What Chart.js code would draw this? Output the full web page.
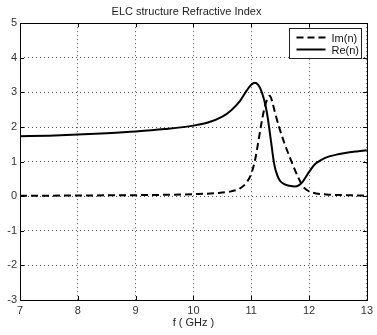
<!DOCTYPE html>
<html>
<head>
<meta charset="utf-8">
<script src="https://cdn.jsdelivr.net/npm/chart.js@4"></script>
<style>
  html, body { margin: 0; padding: 0; background: #fff; }
</style>
</head>
<body>
<canvas id="chartIndex" width="377" height="335"></canvas>
<script>
// Re(n)
const reFreq = [7.0, 7.5, 8.0, 8.5, 9.0, 9.5, 10.0, 10.25, 10.5, 10.65, 10.8, 10.92, 11.0, 11.06, 11.12, 11.17, 11.22, 11.27, 11.31, 11.35, 11.4, 11.45, 11.5, 11.58, 11.66, 11.75, 11.82, 11.89, 11.96, 12.04, 12.12, 12.22, 12.35, 12.5, 12.7, 12.85, 13.0];
const reValues = [1.73, 1.75, 1.78, 1.82, 1.87, 1.94, 2.04, 2.13, 2.30, 2.48, 2.74, 3.05, 3.22, 3.28, 3.22, 3.06, 2.80, 2.42, 1.98, 1.48, 0.90, 0.60, 0.44, 0.34, 0.30, 0.28, 0.31, 0.42, 0.60, 0.80, 0.95, 1.06, 1.15, 1.21, 1.27, 1.30, 1.33];

// Im(n)
const imFreq = [7.0, 8.0, 9.0, 9.5, 10.0, 10.4, 10.65, 10.8, 10.92, 11.0, 11.06, 11.12, 11.17, 11.22, 11.27, 11.32, 11.36, 11.41, 11.49, 11.57, 11.66, 11.74, 11.81, 11.87, 11.93, 12.0, 12.12, 12.3, 12.6, 13.0];
const imValues = [0.01, 0.02, 0.03, 0.04, 0.06, 0.09, 0.14, 0.22, 0.40, 0.65, 1.0, 1.55, 2.05, 2.48, 2.78, 2.90, 2.75, 2.42, 1.95, 1.55, 1.15, 0.82, 0.55, 0.35, 0.22, 0.14, 0.08, 0.05, 0.03, 0.02];

const xTicks = [7, 8, 9, 10, 11, 12, 13];
const yTicks = [-3, -2, -1, 0, 1, 2, 3, 4, 5];

const fontFamily = "'Liberation Sans', Arial, sans-serif";

// box round the plot with little inward ticks, like matlab
const framePlugin = {
  id: "frame",
  afterDatasetsDraw(chart) {
    const ctx = chart.ctx;
    const a = chart.chartArea;
    const xs = chart.scales.x;
    const ys = chart.scales.y;
    ctx.save();
    ctx.strokeStyle = "#000";
    ctx.lineWidth = 1;
    ctx.setLineDash([]);
    ctx.strokeRect(Math.round(a.left) + 0.5, Math.round(a.top) + 0.5, Math.round(a.right - a.left), Math.round(a.bottom - a.top));
    ctx.beginPath();
    xTicks.forEach((t) => {
      const px = Math.round(xs.getPixelForValue(t)) + 0.5;
      ctx.moveTo(px, a.bottom); ctx.lineTo(px, a.bottom - 4);
      ctx.moveTo(px, a.top); ctx.lineTo(px, a.top + 4);
    });
    yTicks.forEach((t) => {
      const py = Math.round(ys.getPixelForValue(t)) + 0.5;
      ctx.moveTo(a.left, py); ctx.lineTo(a.left + 4, py);
      ctx.moveTo(a.right, py); ctx.lineTo(a.right - 4, py);
    });
    ctx.stroke();
    ctx.restore();
  },
};

// legend box in the top right corner of the plot
const legendPlugin = {
  id: "boxLegend",
  afterDraw(chart) {
    const ctx = chart.ctx;
    const a = chart.chartArea;
    const bx = Math.round(a.right) - 77.5;
    const by = Math.round(a.top) + 5.5;
    const bw = 72;
    const bh = 30;
    ctx.save();
    ctx.fillStyle = "#fff";
    ctx.fillRect(bx, by, bw, bh);
    ctx.strokeStyle = "#222";
    ctx.lineWidth = 1;
    ctx.strokeRect(bx, by, bw, bh);
    ctx.font = "11px " + fontFamily;
    ctx.textBaseline = "middle";
    ctx.fillStyle = "#111";
    chart.data.datasets.forEach((ds, i) => {
      const y = by + 9 + i * 12;
      ctx.beginPath();
      ctx.strokeStyle = ds.borderColor;
      ctx.lineWidth = ds.borderWidth;
      ctx.setLineDash(ds.borderDash || []);
      ctx.moveTo(bx + 7, y);
      ctx.lineTo(bx + 36, y);
      ctx.stroke();
      ctx.setLineDash([]);
      ctx.fillText(ds.label, bx + 42, y + 1);
    });
    ctx.restore();
  },
};

const chart = new Chart("chartIndex", {
  type: "line",
  data: {
    datasets: [
      {
        label: "Im(n)",
        data: imFreq.map((f, i) => ({ x: f, y: imValues[i] })),
        borderColor: "#000",
        borderWidth: 2,
        borderDash: [7, 4],
        pointRadius: 0,
        cubicInterpolationMode: "monotone",
        fill: false,
      },
      {
        label: "Re(n)",
        data: reFreq.map((f, i) => ({ x: f, y: reValues[i] })),
        borderColor: "#000",
        borderWidth: 2,
        pointRadius: 0,
        cubicInterpolationMode: "monotone",
        fill: false,
      },
    ],
  },
  options: {
    responsive: false,
    animation: false,
    devicePixelRatio: 1,
    layout: { padding: { left: 0, right: 4, top: 0, bottom: 0 } },
    plugins: {
      legend: { display: false },
      tooltip: { enabled: false },
      title: {
        display: true,
        text: "ELC structure Refractive Index",
        color: "#222",
        font: { family: fontFamily, size: 11, weight: "normal" },
        padding: { top: 5, bottom: 5 },
      },
    },
    scales: {
      x: {
        type: "linear",
        min: 7,
        max: 13,
        afterBuildTicks(scale) {
          scale.ticks = xTicks.map((v) => ({ value: v }));
        },
        afterFit(scale) {
          scale.height = 35;
        },
        grid: { color: "#555", lineWidth: 1, drawTicks: false },
        border: { display: false, dash: [1, 3] },
        ticks: {
          color: "#333",
          padding: 4,
          maxRotation: 0,
          font: { family: fontFamily, size: 11 },
        },
        title: {
          display: true,
          text: "f ( GHz )",
          color: "#222",
          font: { family: fontFamily, size: 11 },
          padding: { top: 0, bottom: 5 },
        },
      },
      y: {
        min: -3,
        max: 5,
        afterBuildTicks(scale) {
          scale.ticks = yTicks.map((v) => ({ value: v }));
        },
        afterFit(scale) {
          scale.width = 20;
        },
        grid: { color: "#555", lineWidth: 1, drawTicks: false },
        border: { display: false, dash: [1, 3] },
        ticks: {
          color: "#333",
          padding: 3,
          font: { family: fontFamily, size: 11 },
        },
      },
    },
  },
  plugins: [framePlugin, legendPlugin],
});
</script>
</body>
</html>
